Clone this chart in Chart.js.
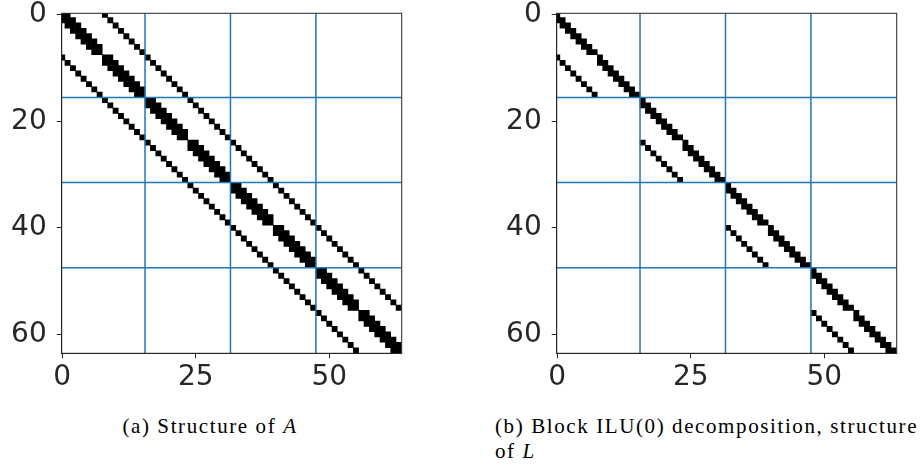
<!DOCTYPE html>
<html>
<head>
<meta charset="utf-8">
<script src="https://cdn.jsdelivr.net/npm/chart.js@4.4.1/dist/chart.umd.min.js"></script>
<style>
  html, body { margin: 0; padding: 0; background: #fff; }
  body { position: relative; width: 923px; height: 466px; overflow: hidden; }
  canvas { position: absolute; top: 0; }
  #chartA { left: 0; }
  #chartL { left: 495px; }
  .cap {
    position: absolute;
    font-family: "Liberation Serif", serif;
    font-size: 21px;
    letter-spacing: 1.6px;
    line-height: 24.5px;
    color: #000;
    white-space: nowrap;
  }
  #capA { left: 0; width: 420px; text-align: center; top: 414px; }
  #capL { left: 495px; top: 414px; }
</style>
</head>
<body>
<canvas id="chartA" width="428" height="400"></canvas>
<canvas id="chartL" width="428" height="400"></canvas>
<div id="capA" class="cap">(a) Structure of <i>A</i></div>
<div id="capL" class="cap">(b) Block ILU(0) decomposition, structure<br>of <i>L</i></div>
<script>
// Tick labels on both axes
const xTickValues = [0, 25, 50];
const yTickValues = [0, 20, 40, 60];

// Boundaries between the 16x16 diagonal blocks
const blockEdges = [15.5, 31.5, 47.5];

// Nonzero column indices of A, one list per row (rows 0..63)
const colsA = [
  [0,1,8],[0,1,2,9],[1,2,3,10],[2,3,4,11],[3,4,5,12],[4,5,6,13],[5,6,7,14],[6,7,15],
  [0,8,9,16],[1,8,9,10,17],[2,9,10,11,18],[3,10,11,12,19],[4,11,12,13,20],[5,12,13,14,21],[6,13,14,15,22],[7,14,15,23],
  [8,16,17,24],[9,16,17,18,25],[10,17,18,19,26],[11,18,19,20,27],[12,19,20,21,28],[13,20,21,22,29],[14,21,22,23,30],[15,22,23,31],
  [16,24,25,32],[17,24,25,26,33],[18,25,26,27,34],[19,26,27,28,35],[20,27,28,29,36],[21,28,29,30,37],[22,29,30,31,38],[23,30,31,39],
  [24,32,33,40],[25,32,33,34,41],[26,33,34,35,42],[27,34,35,36,43],[28,35,36,37,44],[29,36,37,38,45],[30,37,38,39,46],[31,38,39,47],
  [32,40,41,48],[33,40,41,42,49],[34,41,42,43,50],[35,42,43,44,51],[36,43,44,45,52],[37,44,45,46,53],[38,45,46,47,54],[39,46,47,55],
  [40,48,49,56],[41,48,49,50,57],[42,49,50,51,58],[43,50,51,52,59],[44,51,52,53,60],[45,52,53,54,61],[46,53,54,55,62],[47,54,55,63],
  [48,56,57],[49,56,57,58],[50,57,58,59],[51,58,59,60],[52,59,60,61],[53,60,61,62],[54,61,62,63],[55,62,63]
];

// Nonzero column indices of the block ILU(0) factor L, one list per row
const colsL = [
  [0],[0,1],[1,2],[2,3],[3,4],[4,5],[5,6],[6,7],
  [0,8],[1,8,9],[2,9,10],[3,10,11],[4,11,12],[5,12,13],[6,13,14],[7,14,15],
  [16],[16,17],[17,18],[18,19],[19,20],[20,21],[21,22],[22,23],
  [16,24],[17,24,25],[18,25,26],[19,26,27],[20,27,28],[21,28,29],[22,29,30],[23,30,31],
  [32],[32,33],[33,34],[34,35],[35,36],[36,37],[37,38],[38,39],
  [32,40],[33,40,41],[34,41,42],[35,42,43],[36,43,44],[37,44,45],[38,45,46],[39,46,47],
  [48],[48,49],[49,50],[50,51],[51,52],[52,53],[53,54],[54,55],
  [48,56],[49,56,57],[50,57,58],[51,58,59],[52,59,60],[53,60,61],[54,61,62],[55,62,63]
];

// Axis extents
const X_MIN = -0.1, Y_MIN = -0.3, AX_MAX = 63.56;
const CELL_FILL = 1.1;   // marker side relative to one cell
const INK = '#262626';

function cellPoints(rows) {
  const pts = [];
  rows.forEach((cols, i) => cols.forEach(j => pts.push({ x: j, y: i })));
  return pts;
}

function edgeDatasets() {
  const ds = [];
  blockEdges.forEach(v => {
    ds.push({ data: [{ x: v, y: Y_MIN }, { x: v, y: AX_MAX }] });
    ds.push({ data: [{ x: X_MIN, y: v }, { x: AX_MAX, y: v }] });
  });
  return ds.map(d => Object.assign(d, {
    showLine: true, pointRadius: 0, borderColor: '#1f77b4', borderWidth: 1.5,
    clip: 0, order: 0
  }));
}

const framePlugin = {
  id: 'frame',
  afterDraw(chart) {
    const { ctx, chartArea: a } = chart;
    ctx.save();
    ctx.strokeStyle = INK;
    ctx.lineWidth = 1;
    ctx.strokeRect(a.left, a.top, a.right - a.left, a.bottom - a.top);
    ctx.restore();
  }
};

function spyChart(canvasId, rows) {
  const tickFont = { family: 'DejaVu Sans', size: 28 };
  return new Chart(document.getElementById(canvasId), {
    type: 'scatter',
    data: {
      datasets: [
        ...edgeDatasets(),
        {
          data: cellPoints(rows),
          pointStyle: 'rect',
          backgroundColor: '#000',
          borderWidth: 0,
          pointBorderWidth: 0,
          pointRadius: c => {
            const s = c.chart.scales.x;
            return Math.abs(s.getPixelForValue(1) - s.getPixelForValue(0)) * CELL_FILL / Math.SQRT2;
          },
          clip: 0,
          order: 1
        }
      ]
    },
    options: {
      responsive: false,
      animation: false,
      events: [],
      layout: { padding: { left: 0, top: 13.3, right: 26.3, bottom: 0 } },
      plugins: { legend: { display: false }, tooltip: { enabled: false } },
      scales: {
        x: {
          type: 'linear', min: X_MIN, max: AX_MAX,
          afterBuildTicks: s => { s.ticks = xTickValues.map(v => ({ value: v })); },
          afterFit: s => { s.height = 46.7; s.paddingLeft = 0; s.paddingRight = 0; },
          ticks: { font: tickFont, color: INK, padding: 3, maxRotation: 0, autoSkip: false },
          grid: { drawOnChartArea: false, tickLength: 5, color: INK },
          border: { color: INK, width: 1 }
        },
        y: {
          type: 'linear', reverse: true, min: Y_MIN, max: AX_MAX,
          afterBuildTicks: s => { s.ticks = yTickValues.map(v => ({ value: v })); },
          afterFit: s => { s.width = 61.7; s.paddingTop = 0; s.paddingBottom = 0; },
          ticks: { font: tickFont, color: INK, padding: 10, autoSkip: false },
          grid: { drawOnChartArea: false, tickLength: 5, color: INK },
          border: { color: INK, width: 1 }
        }
      }
    },
    plugins: [framePlugin]
  });
}

spyChart('chartA', colsA);
spyChart('chartL', colsL);
</script>
</body>
</html>
